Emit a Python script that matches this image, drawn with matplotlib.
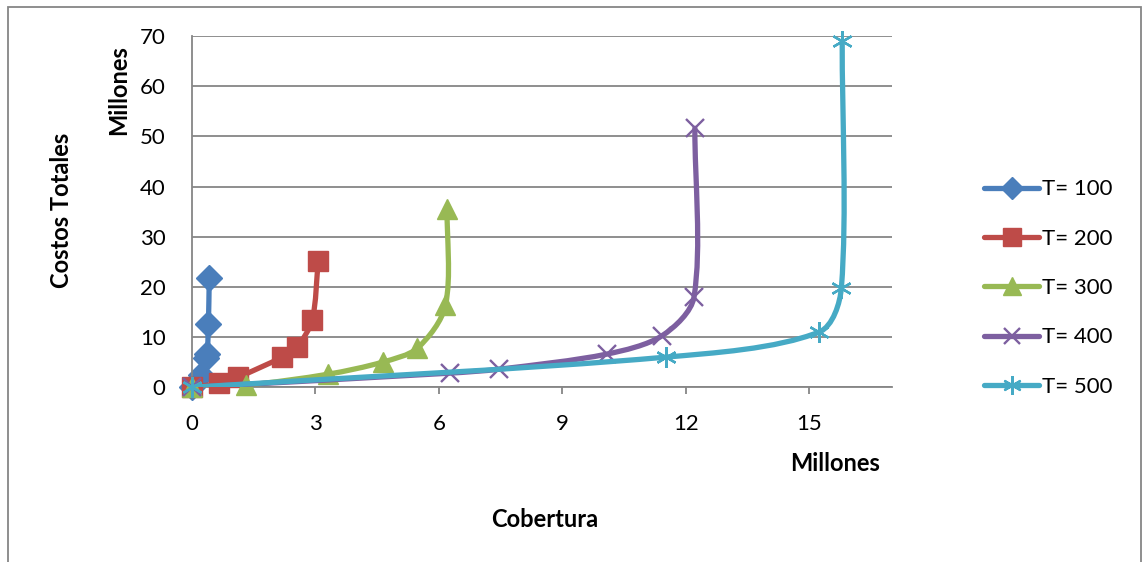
import numpy as np
import matplotlib
matplotlib.use('Agg')
import matplotlib.pyplot as plt
from matplotlib.path import Path
from matplotlib.patches import PathPatch, Rectangle
from matplotlib.lines import Line2D

plt.rcParams['font.family'] = ['Lato', 'DejaVu Sans']

# DATA (Cobertura in millones, Costos Totales in millones)
labels = ['T= 100', 'T= 200', 'T= 300', 'T= 400', 'T= 500']

x_t100 = [0.0, 0.22, 0.33, 0.37, 0.40, 0.42]
y_t100 = [0.0, 2.5, 5.8, 6.6, 12.5, 21.7]

x_t200 = [0.0, 0.66, 1.12, 2.19, 2.55, 2.92, 3.07]
y_t200 = [0.0, 0.8, 2.0, 6.0, 8.0, 13.4, 25.2]

x_t300 = [0.0, 1.31, 3.31, 4.63, 5.48, 6.16, 6.20]
y_t300 = [0.0, 0.4, 2.6, 5.0, 7.8, 16.3, 35.6]

x_t400 = [0.0, 6.26, 7.47, 10.08, 11.43, 12.20, 12.22]
y_t400 = [0.0, 2.8, 3.6, 6.6, 10.3, 18.0, 51.6]

x_t500 = [0.0, 11.52, 15.24, 15.78, 15.80]
y_t500 = [0.0, 6.0, 11.0, 19.8, 69.0]

series = [(x_t100, y_t100), (x_t200, y_t200), (x_t300, y_t300),
          (x_t400, y_t400), (x_t500, y_t500)]

# STYLE
colors = ['#4A7EBB', '#BE4B48', '#98B954', '#7D5FA0', '#46AAC5']
markers = ['D', 's', '^', 'x', (6, 2, 0)]
msizes = [13, 14, 15, 13, 15]

XMAX, YMAX = 17, 70


def smooth_path(x, y, sx, sy, tension=0.3):
    # Excel-like smoothed line drawn as cubic Bezier segments;
    # tangents are worked out in screen-like units so the curve does not overshoot
    p = np.column_stack([np.asarray(x) * sx, np.asarray(y) * sy]).astype(float)
    n = len(p)
    tang = []
    for i in range(n):
        a = p[max(i - 1, 0)]
        b = p[min(i + 1, n - 1)]
        d = b - a
        tang.append(d / (np.hypot(*d) or 1.0))
    verts = [p[0]]
    codes = [Path.MOVETO]
    for i in range(n - 1):
        seg = np.hypot(*(p[i + 1] - p[i]))
        c1 = p[i] + tang[i] * seg * tension
        c2 = p[i + 1] - tang[i + 1] * seg * tension
        verts += [c1, c2, p[i + 1]]
        codes += [Path.CURVE4] * 3
    verts = np.array(verts) / [sx, sy]
    return Path(verts, codes)


fig = plt.figure(figsize=(11.46, 5.62), dpi=100)
ax = fig.add_axes([0.1675, 0.311, 0.6105, 0.625])

# pixels per data unit, used only for the curve tangents
sx = 0.6105 * 1146 / XMAX
sy = 0.625 * 562 / YMAX

handles = []
for i, (xs, ys) in enumerate(series):
    patch = PathPatch(smooth_path(xs, ys, sx, sy), facecolor='none', edgecolor=colors[i],
                      lw=3.8, capstyle='round', joinstyle='round', zorder=2 + i)
    ax.add_patch(patch)
    mew = 1.7 if i >= 3 else 1.0
    ax.plot(xs, ys, linestyle='none', marker=markers[i], markersize=msizes[i],
            color=colors[i], markeredgecolor=colors[i], markeredgewidth=mew,
            zorder=2 + i, clip_on=False)
    handles.append(Line2D([0], [0], color=colors[i], lw=3.8, marker=markers[i],
                          markersize=msizes[i] * 0.9, markeredgewidth=mew,
                          solid_capstyle='round'))

# AXES
ax.set_xlim(0, XMAX)
ax.set_ylim(0, YMAX)
ax.set_xticks([0, 3, 6, 9, 12, 15])
ax.set_yticks(range(0, 71, 10))
ax.yaxis.grid(True, color='#868686', lw=1.3)
ax.set_axisbelow(True)
for s in ['top', 'right']:
    ax.spines[s].set_visible(False)
for s in ['left', 'bottom']:
    ax.spines[s].set_color('#868686')
    ax.spines[s].set_linewidth(1.3)
ax.tick_params(axis='y', length=0, pad=19, labelsize=16)
ax.tick_params(axis='x', length=5, width=1.3, color='#868686', direction='out',
               pad=14, labelsize=16)

# LABELS
fig.text(0.054, 0.626, 'Costos Totales', rotation=90, ha='center', va='center',
         fontsize=17, fontweight='bold')
fig.text(0.1035, 0.84, 'Millones', rotation=90, ha='center', va='center',
         fontsize=17, fontweight='bold')
fig.text(0.7286, 0.176, 'Millones', ha='center', va='center',
         fontsize=17, fontweight='bold')
fig.text(0.4755, 0.075, 'Cobertura', ha='center', va='center',
         fontsize=17, fontweight='bold')

# LEGEND
fig.legend(handles, labels, loc='center left', bbox_to_anchor=(0.841, 0.4875),
           frameon=False, fontsize=16, handlelength=2.5, handletextpad=0.1,
           labelspacing=1.32)

# OUTER FRAME
fig.patches.append(Rectangle((8 / 1146, -0.02), 1133 / 1146, 1.02 - 7 / 562,
                             transform=fig.transFigure, fill=False,
                             edgecolor='#868686', lw=1.3))

plt.savefig('out.png', dpi=100)
